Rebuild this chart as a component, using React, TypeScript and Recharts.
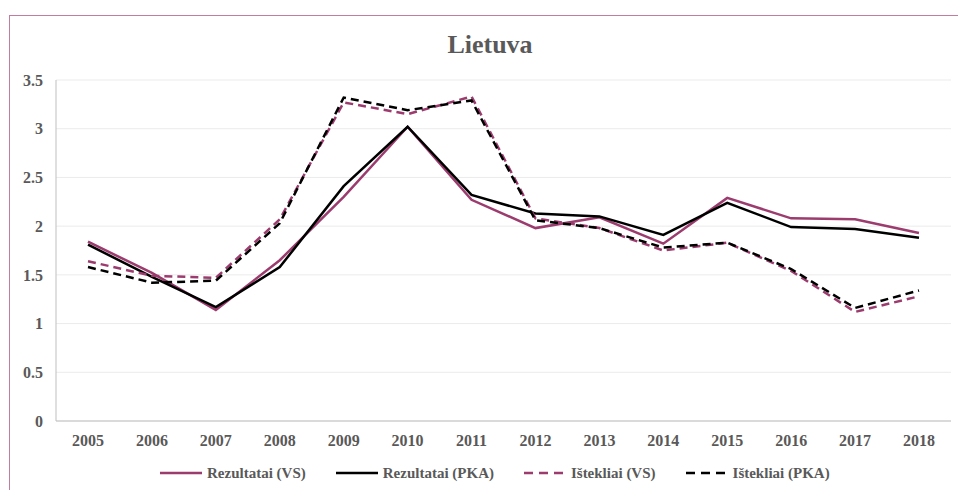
import { LineChart, Line, XAxis, YAxis, CartesianGrid } from 'recharts';

const years = ['2005', '2006', '2007', '2008', '2009', '2010', '2011', '2012', '2013', '2014', '2015', '2016', '2017', '2018'];
const rezultataiVS = [1.84, 1.52, 1.14, 1.65, 2.3, 3.02, 2.27, 1.98, 2.09, 1.82, 2.29, 2.08, 2.07, 1.93];
const rezultataiPKA = [1.81, 1.48, 1.17, 1.58, 2.41, 3.02, 2.32, 2.13, 2.1, 1.91, 2.24, 1.99, 1.97, 1.88];
const istekliaiVS = [1.64, 1.49, 1.47, 2.07, 3.27, 3.15, 3.33, 2.08, 1.98, 1.75, 1.83, 1.54, 1.12, 1.28];
const istekliaiPKA = [1.58, 1.42, 1.44, 2.03, 3.32, 3.19, 3.29, 2.06, 1.98, 1.78, 1.83, 1.56, 1.16, 1.34];
const yTicks = [0, 0.5, 1, 1.5, 2, 2.5, 3, 3.5];

const PINK = '#9c3b6e';
const TEXT = '#595959';
const FONT = 'Liberation Serif';

const series = [
  { key: 'rVS', name: 'Rezultatai (VS)', color: PINK, dash: undefined },
  { key: 'rPKA', name: 'Rezultatai (PKA)', color: '#000000', dash: undefined },
  { key: 'iVS', name: 'Ištekliai (VS)', color: PINK, dash: '8 5' },
  { key: 'iPKA', name: 'Ištekliai (PKA)', color: '#000000', dash: '8 5' },
];

const data = years.map((year, i) => ({
  year,
  rVS: rezultataiVS[i],
  rPKA: rezultataiPKA[i],
  iVS: istekliaiVS[i],
  iPKA: istekliaiPKA[i],
}));

const tickStyle = { fontSize: 16, fontWeight: 'bold', fill: TEXT, fontFamily: FONT };

export default function App() {
  return (
    <div style={{ position: 'absolute', left: 0, top: 0, width: 958, height: 490, overflow: 'hidden', background: '#fff', fontFamily: FONT }}>
      <div
        style={{
          position: 'absolute',
          left: 9,
          top: 15,
          width: 1000,
          height: 600,
          borderLeft: '1.5px solid #c27ca0',
          borderTop: '1.5px solid #c27ca0',
        }}
      />
      <div
        style={{
          position: 'absolute',
          left: 0,
          top: 32,
          width: 980,
          textAlign: 'center',
          fontFamily: FONT,
          fontWeight: 'bold',
          fontSize: 26,
          lineHeight: '26px',
          color: TEXT,
        }}
      >
        Lietuva
      </div>
      <div style={{ position: 'absolute', left: 0, top: 0 }}>
        <LineChart width={958} height={490} data={data} margin={{ top: 80, right: 7, bottom: 39, left: 0 }}>
          <CartesianGrid vertical={false} stroke="#ebebeb" strokeWidth={1} />
          <XAxis
            dataKey="year"
            tick={tickStyle}
            tickLine={false}
            axisLine={{ stroke: '#bfbfbf' }}
            tickMargin={8}
            height={30}
            padding={{ left: 32, right: 32 }}
          />
          <XAxis xAxisId="top" orientation="top" dataKey="year" tick={false} tickLine={false} axisLine={{ stroke: '#bfbfbf' }} height={0} />
          <YAxis
            domain={[0, 3.5]}
            ticks={yTicks}
            tick={tickStyle}
            tickLine={false}
            axisLine={{ stroke: '#bfbfbf' }}
            tickMargin={7}
            width={56}
          />
          <YAxis yAxisId="right" orientation="right" domain={[0, 3.5]} tick={false} tickLine={false} axisLine={{ stroke: '#bfbfbf' }} width={0} />
          {series.map((s) => (
            <Line
              key={s.key}
              type="linear"
              dataKey={s.key}
              name={s.name}
              stroke={s.color}
              strokeWidth={2.5}
              strokeDasharray={s.dash}
              dot={false}
              activeDot={false}
              isAnimationActive={false}
            />
          ))}
        </LineChart>
      </div>
      <div
        style={{
          position: 'absolute',
          left: 160,
          top: 463,
          display: 'flex',
          gap: 30,
          fontFamily: FONT,
          fontWeight: 'bold',
          fontSize: 15,
          color: TEXT,
          lineHeight: '20px',
        }}
      >
        {series.map((s) => (
          <div key={s.key} style={{ display: 'flex', alignItems: 'center' }}>
            <svg width={42} height={20} style={{ marginRight: 5 }}>
              <line x1={0} y1={10} x2={42} y2={10} stroke={s.color} strokeWidth={2.5} strokeDasharray={s.dash ? '9 6' : undefined} />
            </svg>
            <span>{s.name}</span>
          </div>
        ))}
      </div>
    </div>
  );
}
